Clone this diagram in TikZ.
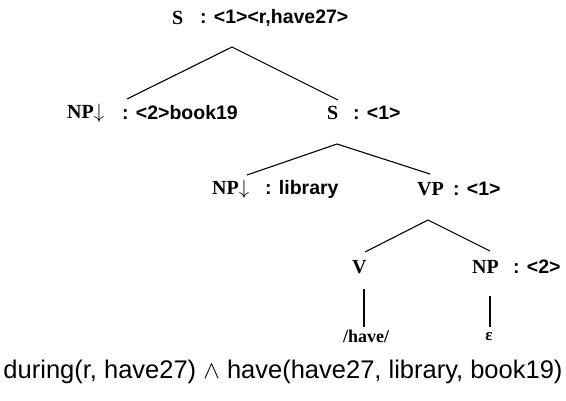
\documentclass[tikz,border=0pt]{standalone}
\usepackage{fontspec}
\setmainfont{Liberation Serif}
\setsansfont{Liberation Sans}
\usepackage{amsmath,amssymb}
\usetikzlibrary{positioning}

\begin{document}
\begin{tikzpicture}[
    x=1pt, y=-1pt,
    cat/.style={inner sep=0pt,anchor=west,font=\fontsize{20}{22}\selectfont\bfseries},
    feat/.style={inner sep=0pt,anchor=west,font=\fontsize{19.5}{21}\selectfont\sffamily\bfseries},
    leaf/.style={inner sep=0pt,font=\fontsize{18}{20}\selectfont\bfseries},
    branch/.style={line width=1.1pt}
    ]
    \useasboundingbox (0,0) rectangle (566,400);

    \node[cat] (s0) at (172,18) {S};
    \node[feat] (s0f) at (200,18) {: <1><r,have27>};

    \node[cat] (np0) at (67,113) {NP$\downarrow$};
    \node[feat] (np0f) at (122,113) {: <2>book19};
    \node[cat] (s1) at (327,113) {S};
    \node[feat] (s1f) at (353,113) {: <1>};

    \node[cat] (np1) at (212,189) {NP$\downarrow$};
    \node[feat] (np1f) at (265,189) {: library};
    \node[cat] (vp) at (417,189) {VP};
    \node[feat] (vpf) at (453,189) {: <1>};

    \node[cat] (v) at (352,267) {V};
    \node[cat] (np2) at (472,267) {NP};
    \node[feat] (np2f) at (513,267) {: <2>};

    \node[leaf] (have) at (366,336) {/have/};
    \node[leaf,font=\fontsize{17}{19}\selectfont\bfseries] (epsleaf) at (489,337) {ε};

    \node[inner sep=0pt,font=\fontsize{25.5}{27}\selectfont\sffamily] (sem) at (283,372)
        {during(r, have27) $\wedge$ have(have27, library, book19)};

    \coordinate (s0a) at (232,47);
    \coordinate (np0t) at (127,99);
    \coordinate (s1t) at (338,100);
    \coordinate (s1a) at (337,144);
    \coordinate (np1t) at (247,175);
    \coordinate (vpt) at (430,174);
    \coordinate (vpa) at (428,220);
    \coordinate (vt) at (365,252);
    \coordinate (np2t) at (490,251);
    \coordinate (vb) at (364,289);
    \coordinate (haveT) at (364,327);
    \coordinate (np2b) at (490,296);
    \coordinate (epsT) at (490,327);

    \draw[branch] (np0t) -- (s0a) -- (s1t);
    \draw[branch] (np1t) -- (s1a) -- (vpt);
    \draw[branch] (vt) -- (vpa) -- (np2t);
    \draw[branch] (vb) -- (haveT);
    \draw[branch] (np2b) -- (epsT);
\end{tikzpicture}
\end{document}
